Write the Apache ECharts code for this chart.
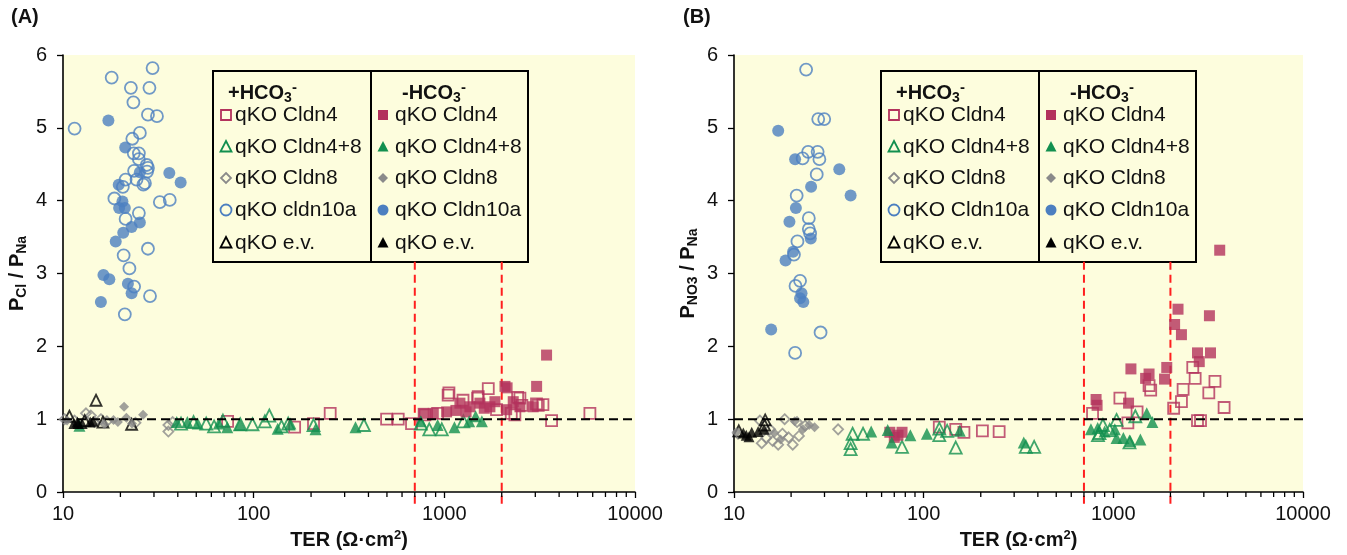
<!DOCTYPE html>
<html>
<head>
<meta charset="utf-8">
<script src="https://cdn.jsdelivr.net/npm/echarts@6/dist/echarts.min.js"></script>
<style>
  html, body { margin: 0; padding: 0; background: #fff; }
  #chart { width: 1347px; height: 555px; }
</style>
</head>
<body>
<div id="chart"></div>
<script>
// ---- data: [TER (Ohm*cm2), permeability ratio] ----

// Panel A: PCl / PNa
const aCldn4Plus = [[73,0.97],[164,0.89],[206,0.94],[252,1.08],[498,1.0],[573,1.0],[673,0.94],[791,1.06],[922,1.08],[1047,1.33],[1057,1.36],[1253,1.26],[1495,1.29],[1506,1.31],[1700,1.42],[1878,1.13],[2244,1.08],[2344,1.06],[2423,1.3],[2491,1.29],[2549,1.19],[3044,1.21],[3108,1.19],[3289,1.2],[3652,0.98],[5800,1.08]];
const aCldn4Minus = [[775,1.08],[875,1.08],[1028,1.1],[1150,1.12],[1207,1.22],[1300,1.1],[1362,1.17],[1537,1.22],[1620,1.15],[1734,1.17],[1842,1.24],[2080,1.45],[2122,1.13],[2134,1.43],[2298,1.24],[2491,1.17],[2925,1.17],[3048,1.45],[3437,1.88]];
const aCldn48Plus = [[41.6,0.94],[48.4,0.96],[56.4,0.94],[62,0.9],[69,0.98],[85,0.93],[98.6,0.93],[114.5,0.97],[120.8,1.05],[140,0.9],[151.8,0.94],[206,0.92],[378.7,0.92],[753,0.94],[834,0.86],[970,0.86],[1259,0.97]];
const aCldn48Minus = [[12.2,0.91],[39.5,0.96],[44.9,0.96],[50.9,0.94],[65.7,0.94],[72.7,0.89],[84.7,0.92],[133.7,0.87],[155.8,0.94],[211,0.86],[342,0.89],[753,0.97],[922,0.92],[1130,0.89],[1350,0.97],[1459,1.04],[1574,0.97]];
const aCldn8Plus = [[10.2,1.0],[11.5,0.98],[13.2,1.08],[14.0,1.05],[14.6,0.96],[15.8,1.0],[17,0.97],[24,0.95],[35.7,0.92],[35.7,0.83],[37.6,0.96]];
const aCldn8Minus = [[10.5,0.98],[16.5,0.93],[18.4,0.99],[19.4,0.96],[20.9,1.17],[21.5,1.02],[23,0.94],[26.3,1.06]];
const aCldn10aPlus = [[29.5,5.82],[18.0,5.69],[22.7,5.55],[28.4,5.55],[23.4,5.35],[11.5,4.99],[27.9,5.18],[31.1,5.16],[25.3,4.93],[23.1,4.85],[23.5,4.65],[25.0,4.65],[25.0,4.57],[27.5,4.49],[27.9,4.45],[27.6,4.40],[23.6,4.41],[21.3,4.29],[20.6,4.19],[24.3,4.29],[26.9,4.24],[26.4,4.22],[18.6,4.03],[32.2,3.98],[36.3,4.01],[25.0,3.83],[21.3,3.75],[27.9,3.34],[20.8,3.25],[22.3,3.07],[23.6,2.82],[28.6,2.69],[21.1,2.44]];
const aCldn10aMinus = [[17.3,5.10],[21.2,4.73],[25.3,4.39],[36.1,4.38],[41.4,4.25],[19.6,4.22],[20.5,3.99],[19.7,3.90],[21.1,3.90],[25.3,3.70],[22.9,3.64],[20.7,3.56],[18.9,3.44],[16.3,2.98],[17.5,2.92],[21.9,2.86],[22.9,2.73],[15.8,2.61]];
const aEvPlus = [[10.8,1.04],[13,0.98],[14.9,1.26],[16.2,0.96],[22.9,0.93]];
const aEvMinus = [[11.4,0.94],[11.9,0.96],[12.0,0.94],[12.6,0.94],[13.9,0.96],[14.4,0.97]];

// Panel B: PNO3 / PNa
const bCldn4Plus = [[120.9,0.89],[147.6,0.86],[163,0.82],[204,0.84],[250,0.83],[777,1.08],[1083,1.29],[1193,0.95],[1334,1.10],[1543,1.46],[1574,1.40],[2080,1.15],[2286,1.24],[2333,1.41],[2623,1.71],[2700,1.56],[2778,0.98],[2882,0.98],[3187,1.36],[3434,1.52],[3837,1.16]];
const bCldn4Minus = [[66.3,0.82],[70,0.75],[73.2,0.78],[76.9,0.82],[811,1.27],[821,1.19],[1203,1.22],[1238,1.69],[1480,1.56],[1543,1.62],[1862,1.55],[1913,1.71],[2104,2.30],[2193,2.51],[2286,2.16],[2778,1.91],[2838,1.79],[3211,2.42],[3253,1.91],[3638,3.32]];
const bCldn48Plus = [[41.2,0.67],[41.2,0.59],[42.2,0.80],[47.9,0.80],[76.9,0.62],[120.9,0.87],[120.9,0.78],[133,0.84],[147.6,0.61],[345.7,0.62],[382.5,0.62],[830,0.78],[845,0.81],[881,0.92],[957,0.85],[1040,0.99],[1217,0.68],[1306,1.04]];
const bCldn48Minus = [[52.9,0.83],[64.6,0.85],[67.9,0.68],[85.1,0.78],[104,0.80],[155,0.84],[337,0.68],[762,0.86],[827,0.88],[900,0.83],[1018,0.86],[1040,0.74],[1130,0.74],[1228,0.70],[1389,0.72],[1500,1.08],[1607,0.96]];
const bCldn8Plus = [[10.5,0.80],[13.7,0.98],[14.0,0.67],[14.8,0.74],[15.5,0.86],[16,0.70],[17.1,0.65],[18,0.80],[18.5,1.0],[19.4,0.75],[20.4,0.65],[21.5,0.96],[22.0,0.77],[23.7,0.91],[35.4,0.86]];
const bCldn8Minus = [[10.3,0.82],[16.3,0.81],[17.6,0.72],[20.9,0.97],[23.1,0.86],[24.9,0.92],[26.6,0.89]];
const bCldn10aPlus = [[24.0,5.80],[27.8,5.12],[29.9,5.12],[24.6,4.67],[27.6,4.67],[23.0,4.58],[28.2,4.57],[27.3,4.36],[21.4,4.07],[24.8,3.76],[24.8,3.61],[25.2,3.55],[21.6,3.44],[20.7,3.26],[22.3,2.90],[21.1,2.83],[28.6,2.19],[21.0,1.91]];
const bCldn10aMinus = [[17.1,4.96],[21.0,4.57],[35.9,4.43],[41.2,4.07],[25.5,4.19],[21.2,3.90],[19.6,3.71],[25.4,3.48],[20.5,3.30],[18.7,3.18],[22.7,2.73],[22.3,2.66],[23.2,2.61],[15.7,2.23]];
const bEvPlus = [[10.6,0.84],[14.5,0.92],[14.6,0.99]];
const bEvMinus = [[11.2,0.81],[11.6,0.78],[12,0.76],[12.4,0.82],[13.4,0.83],[14.4,0.86]];

// axes / reference lines
const xTicks = [10, 100, 1000, 10000];
const minorTicks = [20,30,40,50,60,70,80,90,200,300,400,500,600,700,800,900,2000,3000,4000,5000,6000,7000,8000,9000];
const yTicks = [0, 1, 2, 3, 4, 5, 6];
const terCutoffs = [700, 2000];
const cutoffSpan = [3.16, -0.22];
const unityRatio = 1;

const leftNamesA = ['qKO Cldn4', 'qKO Cldn4+8', 'qKO Cldn8', 'qKO cldn10a', 'qKO e.v.'];
const leftNamesB = ['qKO Cldn4', 'qKO Cldn4+8', 'qKO Cldn8', 'qKO Cldn10a', 'qKO e.v.'];
const rightNames = ['qKO Cldn4', 'qKO Cldn4+8', 'qKO Cldn8', 'qKO Cldn10a', 'qKO e.v.'];

// ---- styling ----
const FONT = '"Liberation Sans", Arial, sans-serif';
const BG = '#fdfddd';
const kinds = [
  { color: '#b3325c', symbol: 'rect', size: 11 },
  { color: '#12904f', symbol: 'triangle', size: 12 },
  { color: '#8a8a8a', symbol: 'diamond', size: 11 },
  { color: '#4c7fc0', symbol: 'circle', size: 12 },
  { color: '#000000', symbol: 'triangle', size: 11 }
];

const panels = [
  { plus: [aCldn4Plus, aCldn48Plus, aCldn8Plus, aCldn10aPlus, aEvPlus],
    minus: [aCldn4Minus, aCldn48Minus, aCldn8Minus, aCldn10aMinus, aEvMinus],
    yName: '{p|P}{s|Cl}{p| / P}{s|Na}', left: 63, width: 572, legendX: 213, leftNames: leftNamesA, label: '(A)', labelX: 6 },
  { plus: [bCldn4Plus, bCldn48Plus, bCldn8Plus, bCldn10aPlus, bEvPlus],
    minus: [bCldn4Minus, bCldn48Minus, bCldn8Minus, bCldn10aMinus, bEvMinus],
    yName: '{p|P}{s|NO3}{p| / P}{s|Na}', left: 734, width: 569, legendX: 881, leftNames: leftNamesB, label: '(B)', labelX: 678 }
];

function scatter(i, data, k, hollow) {
  return {
    type: 'scatter', xAxisIndex: i, yAxisIndex: i, data: data,
    symbol: k.symbol, symbolSize: k.symbol === 'diamond' ? k.size - 1 : k.size,
    itemStyle: hollow
      ? { color: 'rgba(0,0,0,0)', borderColor: k.color, borderWidth: 1.8 }
      : { color: k.color, borderWidth: 0 },
    z: 2, silent: true
  };
}

function legendMarker(k, cx, cy, hollow) {
  const style = hollow
    ? { fill: null, stroke: k.color, lineWidth: 1.8 }
    : { fill: k.color, stroke: null };
  if (k.symbol === 'rect') return { type: 'rect', shape: { x: cx - 5, y: cy - 5, width: 10, height: 10 }, style };
  if (k.symbol === 'circle') return { type: 'circle', shape: { cx, cy, r: 5.5 }, style };
  if (k.symbol === 'diamond') return { type: 'polygon', shape: { points: [[cx, cy - 5], [cx + 5, cy], [cx, cy + 5], [cx - 5, cy]] }, style };
  return { type: 'polygon', shape: { points: [[cx, cy - 6], [cx + 5.5, cy + 4.5], [cx - 5.5, cy + 4.5]] }, style };
}

function legendBox(p) {
  const x0 = p.legendX, top = 71, h = 191, w = 315, mid = 158;
  const rowY = [115, 147, 178, 210, 243];
  const hdrRich = {
    b: { fontSize: 20, fontWeight: 'bold', fontFamily: FONT, fill: '#111' },
    s: { fontSize: 14, fontWeight: 'bold', fontFamily: FONT, fill: '#111', padding: [11, 0, 0, 0] },
    u: { fontSize: 15, fontWeight: 'bold', fontFamily: FONT, fill: '#111', padding: [0, 0, 11, 0] }
  };
  const kids = [
    { type: 'rect', shape: { x: x0, y: top, width: w, height: h }, style: { fill: BG, stroke: '#000', lineWidth: 2 } },
    { type: 'line', shape: { x1: x0 + mid, y1: top, x2: x0 + mid, y2: top + h }, style: { stroke: '#000', lineWidth: 2 } },
    { type: 'text', style: { x: x0 + 15, y: 93, text: '{b|+HCO}{s|3}{u|-}', rich: hdrRich, verticalAlign: 'middle' } },
    { type: 'text', style: { x: x0 + 189, y: 93, text: '{b|-HCO}{s|3}{u|-}', rich: hdrRich, verticalAlign: 'middle' } }
  ];
  kinds.forEach((k, r) => {
    kids.push(legendMarker(k, x0 + 13, rowY[r], true));
    kids.push({ type: 'text', style: { x: x0 + 22, y: rowY[r], text: p.leftNames[r], fontSize: 21, fontFamily: FONT, fill: '#111', verticalAlign: 'middle' } });
    kids.push(legendMarker(k, x0 + 170, rowY[r], false));
    kids.push({ type: 'text', style: { x: x0 + 182, y: rowY[r], text: rightNames[r], fontSize: 21, fontFamily: FONT, fill: '#111', verticalAlign: 'middle' } });
  });
  return { type: 'group', z: 50, children: kids };
}

const grids = [], xAxes = [], yAxes = [], series = [], graphics = [], titles = [];

panels.forEach((p, i) => {
  grids.push({ left: p.left, top: 55, width: p.width, height: 437, show: true, backgroundColor: BG, borderWidth: 0, containLabel: false, outerBoundsMode: 'none' });
  xAxes.push({
    type: 'log', logBase: 10, gridIndex: i, min: xTicks[0], max: xTicks[xTicks.length - 1],
    axisLine: { show: true, lineStyle: { color: '#000', width: 1.6 } },
    axisTick: { show: true, inside: false, length: 6, lineStyle: { color: '#000', width: 1.3 } },
    axisLabel: { fontSize: 20, fontFamily: FONT, color: '#111', margin: 12, formatter: v => String(Math.round(v)) },
    splitLine: { show: false },
    name: 'TER (Ω·cm{sup|2})', nameLocation: 'middle', nameGap: 30,
    nameTextStyle: { fontSize: 20, fontWeight: 'bold', fontFamily: FONT, color: '#111',
      rich: { sup: { fontSize: 13, fontWeight: 'bold', fontFamily: FONT, color: '#111', padding: [0, 0, 10, 0] } } }
  });
  yAxes.push({
    type: 'value', gridIndex: i, min: yTicks[0], max: yTicks[yTicks.length - 1], interval: 1,
    axisLine: { show: true, lineStyle: { color: '#000', width: 1.6 } },
    axisTick: { show: true, inside: false, length: 6, lineStyle: { color: '#000', width: 1.3 } },
    axisLabel: { fontSize: 20, fontFamily: FONT, color: '#111', margin: 16 },
    splitLine: { show: false },
    name: p.yName, nameLocation: 'middle', nameGap: 34, nameRotate: 90,
    nameTextStyle: { fontSize: 20, fontWeight: 'bold', fontFamily: FONT, color: '#111',
      rich: {
        p: { fontSize: 20, fontWeight: 'bold', fontFamily: FONT, color: '#111' },
        s: { fontSize: 14, fontWeight: 'bold', fontFamily: FONT, color: '#111', padding: [10, 0, 0, 0] }
      } }
  });

  // red TER cut-off lines
  terCutoffs.forEach(t => {
    series.push({
      type: 'line', xAxisIndex: i, yAxisIndex: i, data: cutoffSpan.map(v => [t, v]),
      symbol: 'none', clip: false, silent: true, z: 1,
      lineStyle: { color: '#ff1f1f', width: 2, type: [8, 5] }
    });
  });

  p.plus.forEach((d, k) => series.push(scatter(i, d, kinds[k], true)));
  p.minus.forEach((d, k) => series.push(scatter(i, d, kinds[k], false)));

  // unity line
  series.push({
    type: 'line', xAxisIndex: i, yAxisIndex: i,
    data: [[xTicks[0], unityRatio], [xTicks[xTicks.length - 1], unityRatio]],
    symbol: 'none', silent: true, z: 3,
    lineStyle: { color: '#000', width: 2, type: [9, 5] }
  });

  // minor ticks of the log axis
  series.push({
    type: 'custom', xAxisIndex: i, yAxisIndex: i, silent: true, clip: false, z: 5,
    data: minorTicks.map(v => [v, 0]),
    renderItem: (params, api) => {
      const pt = api.coord([api.value(0), 0]);
      return { type: 'line', shape: { x1: pt[0], y1: pt[1], x2: pt[0], y2: pt[1] + 5 }, style: { stroke: '#000', lineWidth: 1.3 } };
    }
  });

  graphics.push(legendBox(p));
  titles.push({ text: p.label, left: p.labelX, top: 2, textStyle: { fontSize: 20, fontWeight: 'bold', fontFamily: FONT, color: '#111' } });
});

const chart = echarts.init(document.getElementById('chart'), null, { renderer: 'canvas' });
chart.setOption({
  animation: false,
  backgroundColor: '#fff',
  title: titles,
  grid: grids,
  xAxis: xAxes,
  yAxis: yAxes,
  series: series,
  graphic: graphics
});
</script>
</body>
</html>
